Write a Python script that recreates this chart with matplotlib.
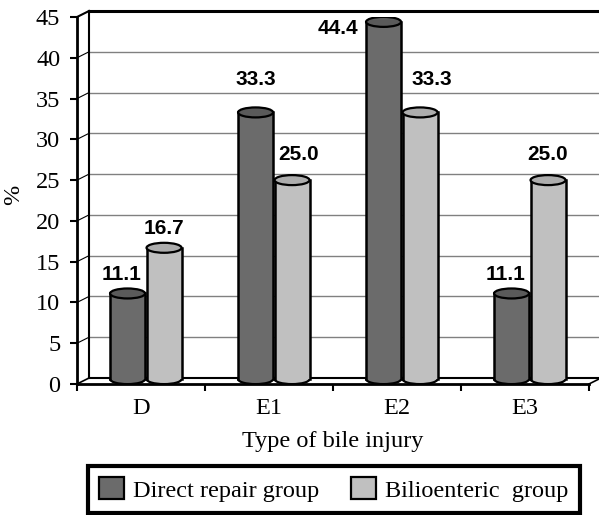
import matplotlib
matplotlib.use("Agg")
import matplotlib.pyplot as plt
from matplotlib.patches import Rectangle, Ellipse, Patch

categories = ["D", "E1", "E2", "E3"]
direct_repair = [11.1, 33.3, 44.4, 11.1]
bilioenteric = [16.7, 25.0, 33.3, 25.0]
series_names = ["Direct repair group", "Bilioenteric  group"]
yticks = [0, 5, 10, 15, 20, 25, 30, 35, 40, 45]

# label offsets (x units, y units) relative to bar top
dark_off = [(-0.05, 2.3), (0.0, 4.0), (-0.36, -0.85), (-0.05, 2.3)]
light_off = [(0.0, 2.4), (0.05, 3.1), (0.09, 4.0), (0.0, 3.1)]

DARK, DARK_TOP = "#6b6b6b", "#5a5a5a"
LIGHT, LIGHT_TOP = "#c0c0c0", "#adadad"

fig = plt.figure(figsize=(5.99, 5.15), dpi=100)
ax = fig.add_axes([77/599, 131/515, 512/599, 367/515])
ax.set_xlim(-0.5, 3.5)
ax.set_ylim(0, 45)
ax.patch.set_visible(False)

px_x = 1/128.0
px_y = 45/367.0
DX, DY = 12*px_x, 6*px_y

# back wall and frame
gk = dict(clip_on=False)
for t in yticks[1:-1]:
    ax.plot([-0.5+DX, 3.7], [t+DY, t+DY], color="#808080", lw=1.0, **gk)
    ax.plot([-0.5, -0.5+DX], [t, t+DY], color="black", lw=0.8, **gk)
ax.plot([-0.5+DX, 3.7], [45+DY, 45+DY], color="black", lw=2.2, **gk)
ax.plot([-0.5, -0.5+DX], [45, 45+DY], color="black", lw=1.5, **gk)
ax.plot([-0.5+DX, -0.5+DX], [DY, 45+DY], color="black", lw=1.5, **gk)
ax.plot([-0.5+DX, 3.5+DX], [DY, DY], color="black", lw=1.5, **gk)
ax.plot([-0.5, -0.5+DX], [0, DY], color="black", lw=1.2, **gk)
ax.plot([3.5, 3.5+DX], [0, DY], color="black", lw=1.2, **gk)

# cylinders
bw = 35*px_x
eh = 10*px_y
base = 0.6

def cylinder(xc, val, body, top):
    ax.add_patch(Ellipse((xc, base), bw, eh, facecolor=body, edgecolor="black", lw=1.6, zorder=3))
    ax.add_patch(Rectangle((xc-bw/2, base), bw, val-base, facecolor=body, edgecolor="none", zorder=3))
    ax.plot([xc-bw/2, xc-bw/2], [base, val], color="black", lw=1.8, zorder=4)
    ax.plot([xc+bw/2, xc+bw/2], [base, val], color="black", lw=1.8, zorder=4)
    ax.add_patch(Ellipse((xc, val), bw, eh, facecolor=top, edgecolor="black", lw=1.6, zorder=5))

lab_font = dict(family="Liberation Sans", fontweight="bold", fontsize=15)
for i in range(len(categories)):
    xd = i - 0.105
    xl = i + 0.18
    cylinder(xd, direct_repair[i], DARK, DARK_TOP)
    cylinder(xl, bilioenteric[i], LIGHT, LIGHT_TOP)
    ax.text(xd + dark_off[i][0], direct_repair[i] + dark_off[i][1], f"{direct_repair[i]:.1f}",
            ha="center", va="center", zorder=6, **lab_font)
    ax.text(xl + light_off[i][0], bilioenteric[i] + light_off[i][1], f"{bilioenteric[i]:.1f}",
            ha="center", va="center", zorder=6, **lab_font)

# axes styling
FS = 17.5
for s in ["top", "right"]:
    ax.spines[s].set_visible(False)
ax.spines["left"].set_linewidth(2)
ax.spines["bottom"].set_linewidth(2)
ax.set_yticks(yticks)
ax.set_yticklabels([str(t) for t in yticks], family="Liberation Serif", fontsize=FS)
ax.tick_params(axis="y", direction="out", length=5, width=1.5, pad=7)
ax.set_xticks(range(len(categories)))
ax.set_xticklabels(categories, family="Liberation Serif", fontsize=FS)
ax.tick_params(axis="x", which="major", length=0, pad=10)
ax.set_xticks([-0.5, 0.5, 1.5, 2.5, 3.5], minor=True)
ax.tick_params(axis="x", which="minor", direction="out", length=5, width=1.5)
ax.set_xlabel("Type of bile injury", family="Liberation Serif", fontsize=FS, labelpad=9)
ax.set_ylabel("%", family="Liberation Serif", fontsize=FS)
ax.yaxis.set_label_coords(-0.103, 0.515)

handles = [Patch(facecolor=DARK, edgecolor="black", lw=1.6),
           Patch(facecolor=LIGHT, edgecolor="black", lw=1.6)]
leg = fig.legend(handles, series_names, loc="center", bbox_to_anchor=(334/599, 1-489.5/515),
                 ncol=2, fancybox=False, edgecolor="black", framealpha=1,
                 prop={"family": "Liberation Serif", "size": FS},
                 handlelength=1.0, handleheight=1.0, handletextpad=0.4, columnspacing=1.3,
                 borderpad=0.45, borderaxespad=0)
leg.get_frame().set_linewidth(3)

fig.savefig("out.png", dpi=100)
